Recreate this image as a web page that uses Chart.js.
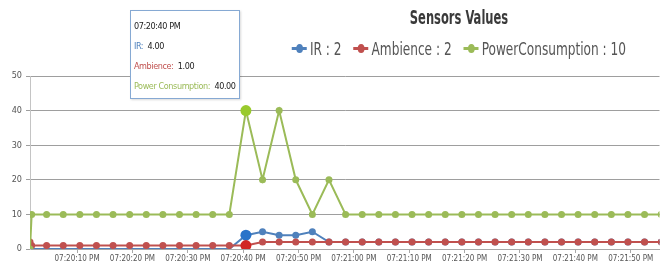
<!DOCTYPE html>
<html lang="en">
  <head>
    <meta charset="UTF-8" />
    <title>Sensors Values</title>
    <script src="https://cdn.jsdelivr.net/npm/chart.js"></script>
    <style>
      body {
        margin: 0;
        background-color: #ffffff;
        font-family: "Liberation Sans Narrow", "DejaVu Sans Condensed", Arial, sans-serif;
      }
      #wrap {
        position: relative;
        width: 665px;
        height: 265px;
      }
      #titulo {
        position: absolute;
        left: 259px;
        width: 400px;
        top: 5px;
        text-align: center;
        font-size: 20px;
        font-weight: bold;
        color: #3a3a3a;
        transform: scaleX(0.64);
        transform-origin: center;
      }
      #legenda {
        position: absolute;
        left: 159px;
        width: 600px;
        top: 38px;
        display: flex;
        justify-content: center;
        align-items: center;
        font-size: 18px;
        color: #555555;
        white-space: nowrap;
        transform: scaleX(0.75);
        transform-origin: center;
      }
      #legenda span.item {
        margin: 0 8px;
        display: flex;
        align-items: center;
      }
      #legenda span.mk {
        display: inline-block;
        position: relative;
        width: 20px;
        height: 3px;
        margin-right: 4px;
      }
      #legenda span.mk i {
        position: absolute;
        left: 6px;
        top: -3px;
        width: 9px;
        height: 9px;
        border-radius: 50%;
      }
      #dica {
        position: absolute;
        background: #ffffff;
        border: 1px solid #86a9d3;
        box-shadow: 1px 1px 2px rgba(0, 0, 0, 0.15);
        font-size: 9px;
        letter-spacing: -0.4px;
        color: #222222;
        padding: 5px 3px 2px 3px;
        line-height: 20px;
        white-space: nowrap;
        display: none;
      }
    </style>
  </head>
  <body>
    <div id="wrap">
      <canvas id="grafico" width="665" height="265"></canvas>
      <div id="titulo">Sensors Values</div>
      <div id="legenda"></div>
      <div id="dica"></div>
    </div>

    <script>
      // seconds after 07:20:00 PM
      const tempos = [
        1.5, 1.8, 4.5, 7.5, 10.5, 13.5, 16.5, 19.5, 22.5, 25.5, 28.5, 31.5,
        34.5, 37.5, 40.5, 43.5, 46.5, 49.5, 52.5, 55.5, 58.5, 61.5, 64.5, 67.5,
        70.5, 73.5, 76.5, 79.5, 82.5, 85.5, 88.5, 91.5, 94.5, 97.5, 100.5,
        103.5, 106.5, 109.5, 112.5, 115.5,
      ];
      const ir = [
        0, 0, 0, 0, 0, 0, 0, 0, 0, 0, 0, 0, 0, 0, 4, 5, 4, 4, 5, 2, 2, 2, 2, 2,
        2, 2, 2, 2, 2, 2, 2, 2, 2, 2, 2, 2, 2, 2, 2, 2,
      ];
      const ambience = [
        2, 1, 1, 1, 1, 1, 1, 1, 1, 1, 1, 1, 1, 1, 1, 2, 2, 2, 2, 2, 2, 2, 2, 2,
        2, 2, 2, 2, 2, 2, 2, 2, 2, 2, 2, 2, 2, 2, 2, 2,
      ];
      const power = [
        0, 10, 10, 10, 10, 10, 10, 10, 10, 10, 10, 10, 10, 10, 40, 20, 40, 20,
        10, 20, 10, 10, 10, 10, 10, 10, 10, 10, 10, 10, 10, 10, 10, 10, 10, 10,
        10, 10, 10, 10,
      ];
      const nomes = ["IR", "Ambience", "PowerConsumption"];
      const nomesDica = ["IR", "Ambience", "Power Consumption"];
      const cores = ["#4f81bc", "#c0504e", "#9bbb58"];
      const yTicks = [0, 10, 20, 30, 40, 50];
      const xTicks = [10, 20, 30, 40, 50, 60, 70, 80, 90, 100, 110];
      const xInicio = 1.5;
      const xFim = 115.2;
      const pontoAtivo = 14; // 07:20:40 PM

      const fonte = "'Liberation Sans Narrow', 'DejaVu Sans Condensed', sans-serif";

      function horario(seg) {
        let s = Math.floor(seg);
        let m = 20 + Math.floor(s / 60);
        let h = 7 + Math.floor(m / 60);
        m = m % 60;
        s = s % 60;
        const p = (n) => String(n).padStart(2, "0");
        return `${p(h)}:${p(m)}:${p(s)} PM`;
      }

      const series = [ir, ambience, power];

      // legend
      document.getElementById("legenda").innerHTML = nomes
        .map(
          (n, i) =>
            `<span class="item"><span class="mk" style="background:${cores[i]}"><i style="background:${cores[i]}"></i></span>${n} : ${series[i][series[i].length - 1]}</span>`
        )
        .join("");

      function dicaExterna(context) {
        const tt = context.tooltip;
        const el = document.getElementById("dica");
        if (tt.opacity === 0) {
          el.style.display = "none";
          return;
        }
        const idx = tt.dataPoints[0].dataIndex;
        let html = `<div>${horario(tempos[idx])}</div>`;
        series.forEach((s, i) => {
          html += `<div><span style="color:${cores[i]}">${nomesDica[i]}:</span>&nbsp; ${s[idx].toFixed(2)}</div>`;
        });
        el.innerHTML = html;
        el.style.display = "block";
        el.style.left = tt.caretX - el.offsetWidth - 6 + "px";
        el.style.top = "10px";
      }

      const ctx = document.getElementById("grafico").getContext("2d");
      const chart = new Chart(ctx, {
        type: "line",
        data: {
          datasets: series.map((s, i) => ({
            label: nomes[i],
            data: s.map((v, j) => ({ x: tempos[j], y: v })),
            order: 2 - i, // green on top, blue underneath
            borderColor: cores[i],
            backgroundColor: cores[i],
            borderWidth: 2,
            pointRadius: i === 0 ? (c) => (c.raw && c.raw.y === 0 ? 0 : 3.5) : 3.5,
            pointHoverRadius: 5.5,
            pointBorderWidth: 0,
            pointHoverBorderWidth: 0,
            tension: 0,
          })),
        },
        options: {
          responsive: false,
          animation: false,
          layout: { padding: { top: 76, right: 0, left: 0, bottom: 0 } },
          interaction: { mode: "index", intersect: false },
          plugins: {
            legend: { display: false },
            title: { display: false },
            tooltip: { enabled: false, external: dicaExterna },
          },
          scales: {
            x: {
              type: "linear",
              min: xInicio,
              max: xFim,
              afterBuildTicks: (scale) => {
                scale.ticks = xTicks.map((v) => ({ value: v }));
              },
              afterFit: (scale) => {
                scale.height = 16;
              },
              ticks: {
                autoSkip: false,
                maxRotation: 0,
                padding: 1,
                color: "#555555",
                font: { family: fonte, size: 8 },
                callback: (v) => horario(v),
              },
              grid: {
                display: true,
                drawOnChartArea: false,
                drawTicks: true,
                tickLength: 4,
                color: "#a8a8a8",
              },
              border: { display: true, color: "#a8a8a8", width: 1 },
            },
            y: {
              min: 0,
              max: 50,
              afterBuildTicks: (scale) => {
                scale.ticks = yTicks.map((v) => ({ value: v }));
              },
              afterFit: (scale) => {
                scale.width = 30;
              },
              ticks: {
                padding: 4,
                color: "#555555",
                font: { family: fonte, size: 9 },
              },
              grid: {
                color: "#9e9e9e",
                lineWidth: 1,
                tickLength: 4,
              },
              border: { display: true, color: "#c4c4c4", width: 1 },
            },
          },
        },
      });

      // show the hovered state at 07:20:40 PM
      const ativos = series.map((s, i) => ({ datasetIndex: i, index: pontoAtivo }));
      chart.setActiveElements(ativos);
      const pt = chart.getDatasetMeta(2).data[pontoAtivo];
      chart.tooltip.setActiveElements(ativos, { x: pt.x, y: pt.y });
      chart.update();
    </script>
  </body>
</html>
